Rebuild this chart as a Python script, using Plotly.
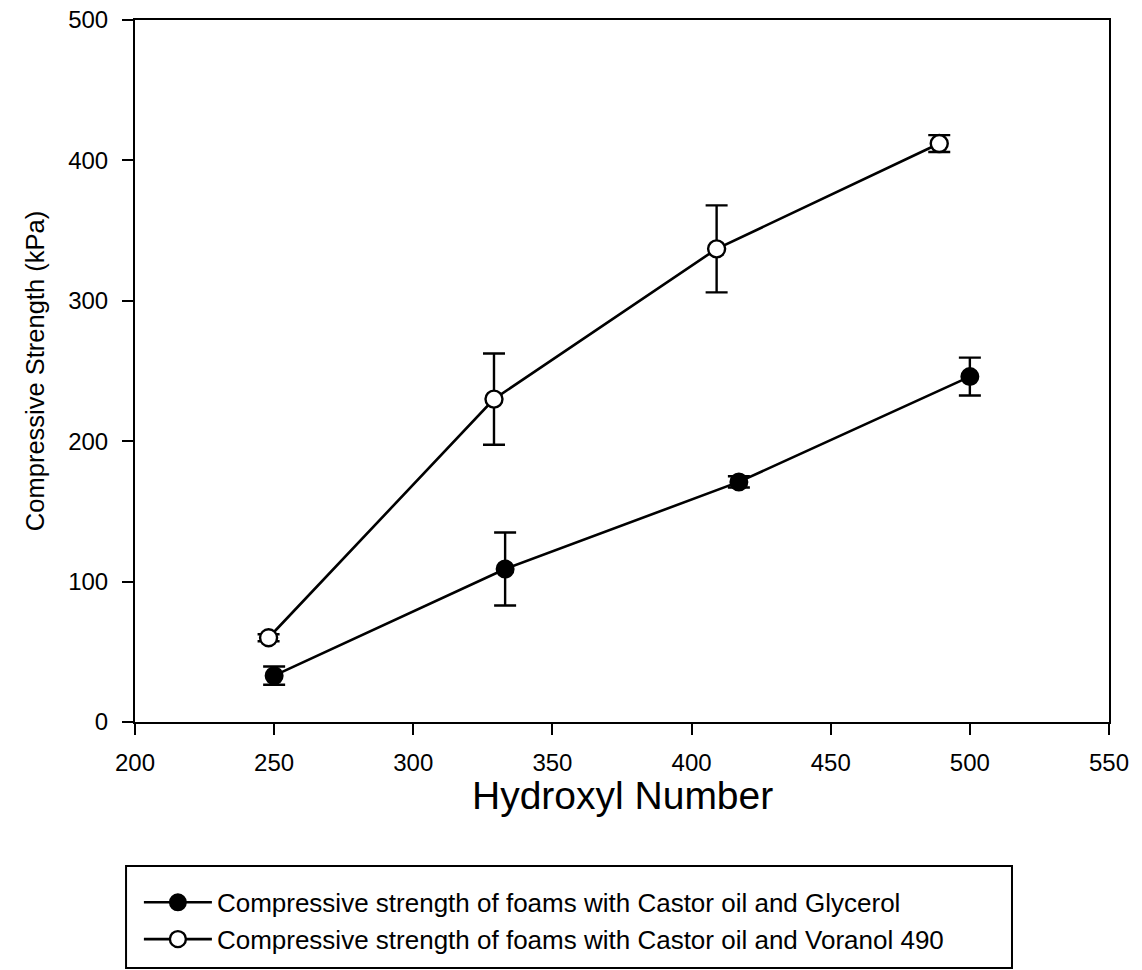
import plotly.graph_objects as go

# Hydroxyl number of the polyol blend vs. compressive strength of the foam
glycerol_x = [250, 333, 417, 500]
glycerol_y = [33, 109, 171, 246]
glycerol_err = [6.5, 26, 4, 13.5]

voranol_x = [248, 329, 409, 489]
voranol_y = [60, 230, 337, 412]
voranol_err = [2.5, 32.5, 31, 6]

series_names = [
    "Compressive strength of foams with Castor oil and Glycerol",
    "Compressive strength of foams with Castor oil and Voranol 490",
]

x_ticks = [200, 250, 300, 350, 400, 450, 500, 550]
y_ticks = [0, 100, 200, 300, 400, 500]

FONT = "Liberation Sans, Arial, sans-serif"

fig = go.Figure()

fig.add_trace(go.Scatter(
    x=glycerol_x, y=glycerol_y, name=series_names[0],
    mode="lines+markers", legendgroup="g1",
    line=dict(color="black", width=2.6),
    marker=dict(symbol="circle", size=17, color="black",
                line=dict(color="black", width=2)),
    error_y=dict(type="data", array=glycerol_err, visible=True,
                 color="black", thickness=2.4, width=11),
))

fig.add_trace(go.Scatter(
    x=voranol_x, y=voranol_y, name=series_names[1],
    mode="lines+markers", legendgroup="g2",
    line=dict(color="black", width=2.6),
    marker=dict(symbol="circle", size=17, color="white",
                line=dict(color="black", width=2.4)),
    error_y=dict(type="data", array=voranol_err, visible=True,
                 color="black", thickness=2.4, width=11),
))

axis_common = dict(
    showline=True, linecolor="black", linewidth=2, mirror=True,
    ticks="outside", ticklen=11, tickwidth=2, tickcolor="black",
    showgrid=False, zeroline=False, automargin=False,
    tickfont=dict(family=FONT, size=24, color="black"),
)

fig.update_xaxes(
    range=[200, 550], tickvals=x_ticks,
    ticklabelstandoff=7,
    **axis_common,
)
fig.update_yaxes(
    range=[0, 500], tickvals=y_ticks,
    title=dict(text="Compressive Strength (kPa)",
               font=dict(family=FONT, size=25.5, color="black"), standoff=16),
    ticklabelstandoff=9,
    **axis_common,
)

# x-axis title, set close under the tick labels
fig.add_annotation(
    text="Hydroxyl Number", xref="paper", yref="paper",
    x=0.5, y=-0.104, xanchor="center", yanchor="middle",
    showarrow=False, font=dict(family=FONT, size=39, color="black"),
)

# Frame around the legend
fig.add_shape(type="rect", xref="paper", yref="paper",
              x0=-0.0092, x1=0.9004, y0=-0.3504, y1=-0.2051,
              line=dict(color="black", width=2), fillcolor="rgba(0,0,0,0)")

fig.update_layout(
    width=1142, height=970,
    margin=dict(l=135, r=33, t=20, b=248, autoexpand=False),
    paper_bgcolor="white", plot_bgcolor="white",
    showlegend=True,
    legend=dict(
        x=0.004, y=-0.2235, xanchor="left", yanchor="top",
        font=dict(family=FONT, size=26, color="black"),
        bgcolor="rgba(0,0,0,0)", borderwidth=0,
        itemwidth=68, tracegroupgap=0,
    ),
)

fig.write_html("out.html")
